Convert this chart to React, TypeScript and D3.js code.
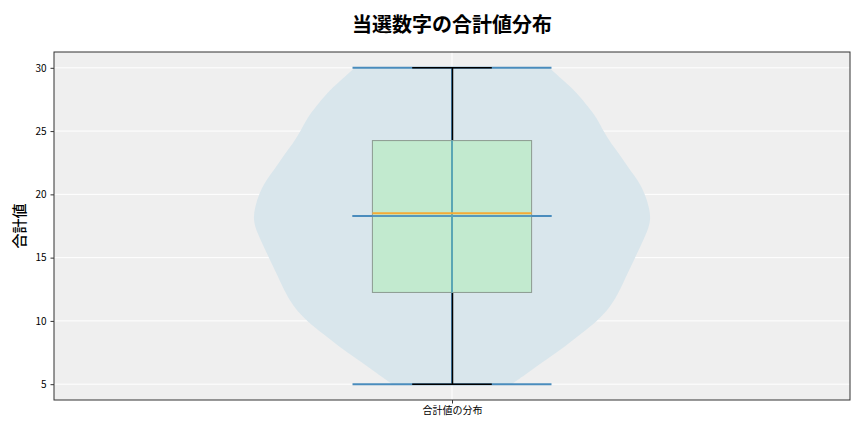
import { useEffect, useRef } from 'react'
import * as d3 from 'd3'

// violin profile: value -> relative density
const violinValues = [5, 6, 7, 8, 9, 10, 11, 12, 13, 14, 15, 16, 17, 18, 19, 20, 21, 22, 23, 24, 25, 26, 27, 28, 29, 30]
const violinDensity = [
  0.3, 0.39, 0.48, 0.57, 0.65, 0.73, 0.79, 0.83, 0.86, 0.89, 0.92, 0.95, 0.98, 1.0, 0.99, 0.97, 0.94, 0.89, 0.85, 0.8,
  0.76, 0.73, 0.68, 0.63, 0.56, 0.49,
]
// box stats
const whiskerLow = 5
const q1 = 12.25
const medianValue = 18.5
const q3 = 24.25
const whiskerHigh = 30
const meanValue = 18.3
const yTicks = [5, 10, 15, 20, 25, 30]
const categoryLabel = '合計値の分布'
const titleText = '当選数字の合計値分布'
const yLabel = '合計値'

const font = "'Noto Sans CJK JP', 'DejaVu Sans', sans-serif"

export default function App() {
  const rootRef = useRef<SVGSVGElement>(null)

  useEffect(() => {
    const width = 864,
      height = 432
    const margin = { top: 52, right: 14, bottom: 32, left: 54 }

    const svg = d3.select(rootRef.current)
    svg.selectAll('*').remove()
    svg.attr('width', width).attr('height', height)

    const x = d3.scaleLinear().domain([0.5, 1.5]).range([margin.left, width - margin.right])
    const y = d3.scaleLinear().domain([3.75, 31.25]).range([height - margin.bottom, margin.top])

    // plot background
    svg
      .append('rect')
      .attr('x', margin.left)
      .attr('y', margin.top)
      .attr('width', width - margin.left - margin.right)
      .attr('height', height - margin.top - margin.bottom)
      .attr('fill', '#efefef')

    // grid
    svg
      .append('g')
      .selectAll('line')
      .data(yTicks)
      .join('line')
      .attr('x1', margin.left)
      .attr('x2', width - margin.right)
      .attr('y1', (d) => y(d))
      .attr('y2', (d) => y(d))
      .attr('stroke', '#ffffff')
      .attr('stroke-width', 1)
    svg
      .append('line')
      .attr('x1', x(1))
      .attr('x2', x(1))
      .attr('y1', margin.top)
      .attr('y2', height - margin.bottom)
      .attr('stroke', '#ffffff')

    // violin body
    const pts = violinValues.map((v, i) => ({ v, d: violinDensity[i] }))
    const area = d3
      .area<{ v: number; d: number }>()
      .y((d) => y(d.v))
      .x0((d) => x(1 - 0.25 * d.d))
      .x1((d) => x(1 + 0.25 * d.d))
      .curve(d3.curveBasis)
    svg.append('path').datum(pts).attr('d', area).attr('fill', '#d9e6ec')

    // violin lines (extrema + mean + bar)
    const vLine = '#4a8cbd'
    const violinLines = [whiskerLow, whiskerHigh, meanValue]
    svg
      .append('g')
      .selectAll('line')
      .data(violinLines)
      .join('line')
      .attr('x1', x(0.875))
      .attr('x2', x(1.125))
      .attr('y1', (d) => y(d))
      .attr('y2', (d) => y(d))
      .attr('stroke', vLine)
      .attr('stroke-width', 2)
    svg
      .append('line')
      .attr('x1', x(1))
      .attr('x2', x(1))
      .attr('y1', y(whiskerLow))
      .attr('y2', y(whiskerHigh))
      .attr('stroke', vLine)
      .attr('stroke-width', 2)

    // whiskers
    svg
      .append('g')
      .selectAll('line')
      .data([
        [whiskerLow, q1],
        [q3, whiskerHigh],
      ])
      .join('line')
      .attr('x1', x(1) + 0.5)
      .attr('x2', x(1) + 0.5)
      .attr('y1', (d) => y(d[0]))
      .attr('y2', (d) => y(d[1]))
      .attr('stroke', '#000')
      .attr('stroke-width', 1.5)
    svg
      .append('g')
      .selectAll('line')
      .data([whiskerLow, whiskerHigh])
      .join('line')
      .attr('x1', x(0.95))
      .attr('x2', x(1.05))
      .attr('y1', (d) => y(d))
      .attr('y2', (d) => y(d))
      .attr('stroke', '#000')
      .attr('stroke-width', 1.5)

    // box
    svg
      .append('rect')
      .attr('x', x(0.9))
      .attr('y', y(q3))
      .attr('width', x(1.1) - x(0.9))
      .attr('height', y(q1) - y(q3))
      .attr('fill', 'rgba(178,236,188,0.6)')
      .attr('stroke', '#8c9a90')
      .attr('stroke-width', 1)

    // violin bar / mean seen through the box
    svg
      .append('line')
      .attr('x1', x(0.875))
      .attr('x2', x(1.125))
      .attr('y1', y(meanValue))
      .attr('y2', y(meanValue))
      .attr('stroke', vLine)
      .attr('stroke-opacity', 0.8)
      .attr('stroke-width', 2)
    svg
      .append('line')
      .attr('x1', x(1))
      .attr('x2', x(1))
      .attr('y1', y(q1))
      .attr('y2', y(q3))
      .attr('stroke', '#5aa6b4')
      .attr('stroke-width', 2)

    // median
    svg
      .append('line')
      .attr('x1', x(0.9))
      .attr('x2', x(1.1))
      .attr('y1', y(medianValue))
      .attr('y2', y(medianValue))
      .attr('stroke', '#f5ab35')
      .attr('stroke-width', 2)

    // axes frame
    svg
      .append('rect')
      .attr('x', margin.left)
      .attr('y', margin.top)
      .attr('width', width - margin.left - margin.right)
      .attr('height', height - margin.top - margin.bottom)
      .attr('fill', 'none')
      .attr('stroke', '#333')
      .attr('stroke-width', 1)

    const yAxis = svg
      .append('g')
      .attr('transform', `translate(${margin.left},0)`)
      .call(d3.axisLeft(y).tickValues(yTicks).tickSize(3.5).tickPadding(4))
    yAxis.select('.domain').remove()
    yAxis.selectAll('text').attr('font-size', 10).attr('font-family', font).attr('fill', '#000')
    yAxis.selectAll('line').attr('stroke', '#333')

    const xAxis = svg
      .append('g')
      .attr('transform', `translate(0,${height - margin.bottom})`)
      .call(
        d3
          .axisBottom(x)
          .tickValues([1])
          .tickFormat(() => categoryLabel)
          .tickSize(3.5)
          .tickPadding(3)
      )
    xAxis.select('.domain').remove()
    xAxis.selectAll('text').attr('font-size', 10).attr('font-family', font).attr('fill', '#000')
    xAxis.selectAll('line').attr('stroke', '#333')

    // title
    svg
      .append('text')
      .attr('x', (margin.left + width - margin.right) / 2)
      .attr('y', 32)
      .attr('text-anchor', 'middle')
      .attr('font-size', 20)
      .attr('font-weight', 'bold')
      .attr('font-family', font)
      .text(titleText)

    // y label
    svg
      .append('text')
      .attr('transform', `translate(25,${(margin.top + height - margin.bottom) / 2}) rotate(-90)`)
      .attr('text-anchor', 'middle')
      .attr('font-size', 15)
      .attr('font-weight', 500)
      .attr('font-family', font)
      .text(yLabel)
  }, [])

  return <svg ref={rootRef} style={{ position: 'absolute', left: 0, top: 0 }}></svg>
}
